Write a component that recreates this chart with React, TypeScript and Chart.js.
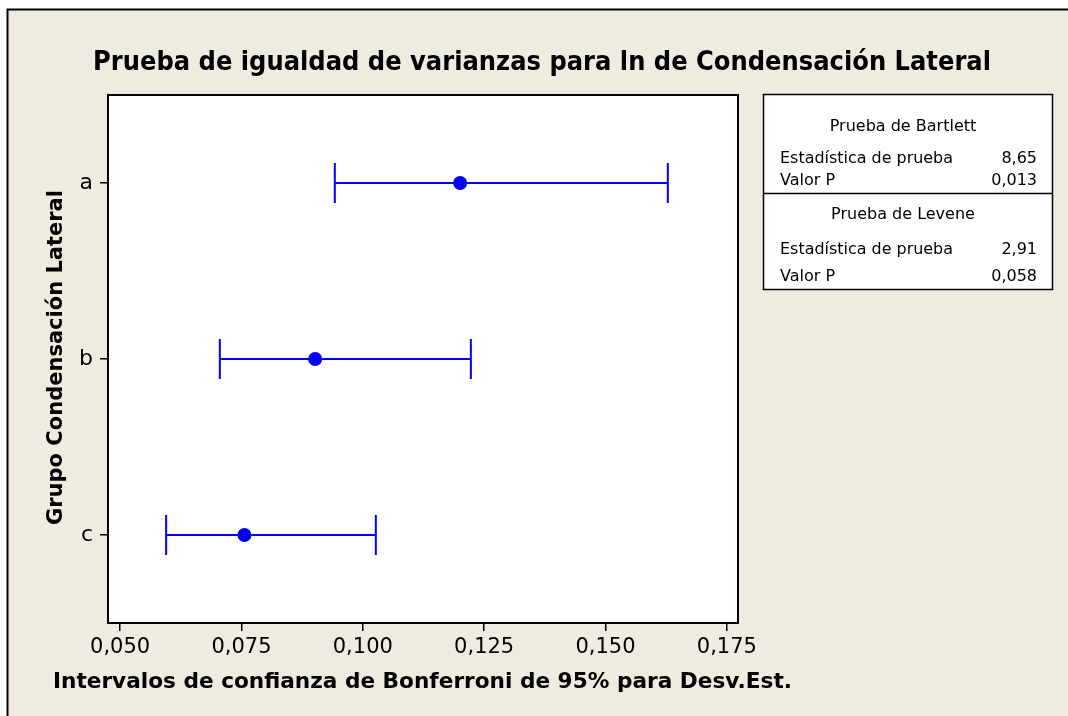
import React, { useEffect, useRef } from 'react';
import { Chart, registerables } from 'chart.js';

Chart.register(...registerables);

// ---- data ----
const groups = ['a', 'b', 'c'];
const sigmaEstimate = [0.12005, 0.09018, 0.07561];
const lowerBound = [0.09423, 0.07054, 0.05948];
const upperBound = [0.16284, 0.12226, 0.10268];
const xTickValues = [0.05, 0.075, 0.1, 0.125, 0.15, 0.175];

const titleText = 'Prueba de igualdad de varianzas para ln de Condensación Lateral';
const xTitleText = 'Intervalos de confianza de Bonferroni de 95% para Desv.Est.';
const yTitleText = 'Grupo Condensación Lateral';

const bartlettTitle = 'Prueba de Bartlett';
const bartlettLabels = ['Estadística de prueba', 'Valor P'];
const bartlettValues = ['8,65', '0,013'];
const leveneTitle = 'Prueba de Levene';
const leveneLabels = ['Estadística de prueba', 'Valor P'];
const leveneValues = ['2,91', '0,058'];

// ---- styles ----
const FONT = "'DejaVu Sans', Tahoma, Verdana, sans-serif";
const BEIGE = '#EFEBE1';
const BLUE = '#0000FF';

function drawText(
  ctx: CanvasRenderingContext2D,
  text: string,
  x: number,
  y: number,
  font: string,
  align: CanvasTextAlign,
  maxWidth?: number
) {
  ctx.save();
  ctx.font = font;
  ctx.textAlign = align;
  ctx.textBaseline = 'alphabetic';
  ctx.fillStyle = '#000';
  const w = ctx.measureText(text).width;
  const sx = maxWidth && w > 0 ? maxWidth / w : 1;
  ctx.translate(x, y);
  ctx.scale(sx, 1);
  ctx.fillText(text, 0, 0);
  ctx.restore();
}

const decorPlugin = {
  id: 'decor',
  beforeDraw(chart: any) {
    const { ctx, width, height, chartArea } = chart;
    ctx.save();
    ctx.fillStyle = '#FFFFFF';
    ctx.fillRect(0, 0, width, height);
    ctx.fillStyle = BEIGE;
    ctx.fillRect(7, 9, width - 7, height - 9);
    ctx.strokeStyle = '#000';
    ctx.lineWidth = 2;
    ctx.beginPath();
    ctx.moveTo(7.5, height);
    ctx.lineTo(7.5, 9.5);
    ctx.lineTo(width, 9.5);
    ctx.stroke();
    ctx.fillStyle = '#FFFFFF';
    ctx.fillRect(chartArea.left, chartArea.top, chartArea.right - chartArea.left, chartArea.bottom - chartArea.top);
    ctx.restore();
  },
  beforeDatasetsDraw(chart: any) {
    const { ctx } = chart;
    const xs = chart.scales.x;
    const ys = chart.scales.y;
    ctx.save();
    ctx.strokeStyle = BLUE;
    ctx.lineWidth = 2;
    groups.forEach((_, i) => {
      const y = ys.getPixelForValue(i);
      const x1 = xs.getPixelForValue(lowerBound[i]);
      const x2 = xs.getPixelForValue(upperBound[i]);
      const cap = 20;
      ctx.beginPath();
      ctx.moveTo(x1, y);
      ctx.lineTo(x2, y);
      ctx.moveTo(x1, y - cap);
      ctx.lineTo(x1, y + cap);
      ctx.moveTo(x2, y - cap);
      ctx.lineTo(x2, y + cap);
      ctx.stroke();
    });
    ctx.restore();
  },
  afterDraw(chart: any) {
    const { ctx, chartArea } = chart;
    ctx.save();
    // plot border
    ctx.strokeStyle = '#000';
    ctx.lineWidth = 2;
    ctx.strokeRect(chartArea.left, chartArea.top, chartArea.right - chartArea.left, chartArea.bottom - chartArea.top);

    // main title
    drawText(ctx, titleText, 542, 70, `bold 27px ${FONT}`, 'center', 898);
    // x axis title
    drawText(ctx, xTitleText, 53, 688, `bold 22px ${FONT}`, 'left', 739);
    // y axis title
    ctx.save();
    ctx.translate(61.5, 357.5);
    ctx.rotate(-Math.PI / 2);
    drawText(ctx, yTitleText, 0, 0, `bold 22px ${FONT}`, 'center', 335);
    ctx.restore();

    // stats box
    const bx = 763.5, by = 94.5, bw = 289, bh = 195;
    ctx.fillStyle = '#FFFFFF';
    ctx.fillRect(bx, by, bw, bh);
    ctx.strokeStyle = '#000';
    ctx.lineWidth = 1.5;
    ctx.strokeRect(bx, by, bw, bh);
    ctx.beginPath();
    ctx.moveTo(bx, 193.5);
    ctx.lineTo(bx + bw, 193.5);
    ctx.stroke();

    const f = `16px ${FONT}`;
    drawText(ctx, bartlettTitle, 903, 131, f, 'center');
    const rowsB = [163, 185];
    bartlettLabels.forEach((l, i) => {
      drawText(ctx, l, 780, rowsB[i], f, 'left', l.length > 10 ? 173 : undefined);
      drawText(ctx, bartlettValues[i], 1037, rowsB[i], f, 'right');
    });
    drawText(ctx, leveneTitle, 903, 219, f, 'center');
    const rowsL = [254, 281];
    leveneLabels.forEach((l, i) => {
      drawText(ctx, l, 780, rowsL[i], f, 'left', l.length > 10 ? 173 : undefined);
      drawText(ctx, leveneValues[i], 1037, rowsL[i], f, 'right');
    });
    ctx.restore();
  },
};

export default function App() {
  const ref = useRef<HTMLCanvasElement | null>(null);

  useEffect(() => {
    if (!ref.current) return;
    const chart = new Chart(ref.current, {
      type: 'scatter',
      data: {
        labels: groups,
        datasets: [
          {
            label: 'Desv.Est.',
            data: groups.map((g, i) => ({ x: sigmaEstimate[i], y: g })) as any,
            pointRadius: 7,
            pointHoverRadius: 7,
            backgroundColor: BLUE,
            borderColor: BLUE,
            borderWidth: 0,
          },
        ],
      },
      options: {
        animation: false,
        responsive: false,
        devicePixelRatio: 1,
        events: [],
        layout: { padding: { left: 8, top: 95, right: 330, bottom: 0 } },
        plugins: {
          legend: { display: false },
          tooltip: { enabled: false },
          title: { display: false },
        },
        scales: {
          x: {
            type: 'linear',
            min: 0.0475,
            max: 0.1773,
            afterBuildTicks: (s: any) => {
              s.ticks = xTickValues.map((v) => ({ value: v }));
            },
            afterFit: (s: any) => {
              s.height = 93;
            },
            ticks: {
              color: '#000',
              font: { family: FONT, size: 21 },
              padding: 4,
              maxRotation: 0,
              autoSkip: false,
              callback: (v: any) => Number(v).toFixed(3).replace('.', ','),
            },
            grid: {
              drawOnChartArea: false,
              drawTicks: true,
              tickLength: 8,
              color: '#000',
              lineWidth: 1.5,
            },
            border: { display: false },
          },
          y: {
            type: 'category',
            labels: groups,
            offset: true,
            afterFit: (s: any) => {
              s.width = 100;
            },
            ticks: {
              color: '#000',
              font: { family: FONT, size: 22 },
              padding: 7,
            },
            grid: {
              drawOnChartArea: false,
              drawTicks: true,
              tickLength: 8,
              color: '#000',
              lineWidth: 1.5,
              offset: false,
            },
            border: { display: false },
          },
        },
      },
      plugins: [decorPlugin],
    });
    return () => chart.destroy();
  }, []);

  return (
    <div style={{ position: 'fixed', left: 0, top: 0, width: 1068, height: 716 }}>
      <canvas ref={ref} width={1068} height={716} style={{ display: 'block', width: 1068, height: 716 }} />
    </div>
  );
}
